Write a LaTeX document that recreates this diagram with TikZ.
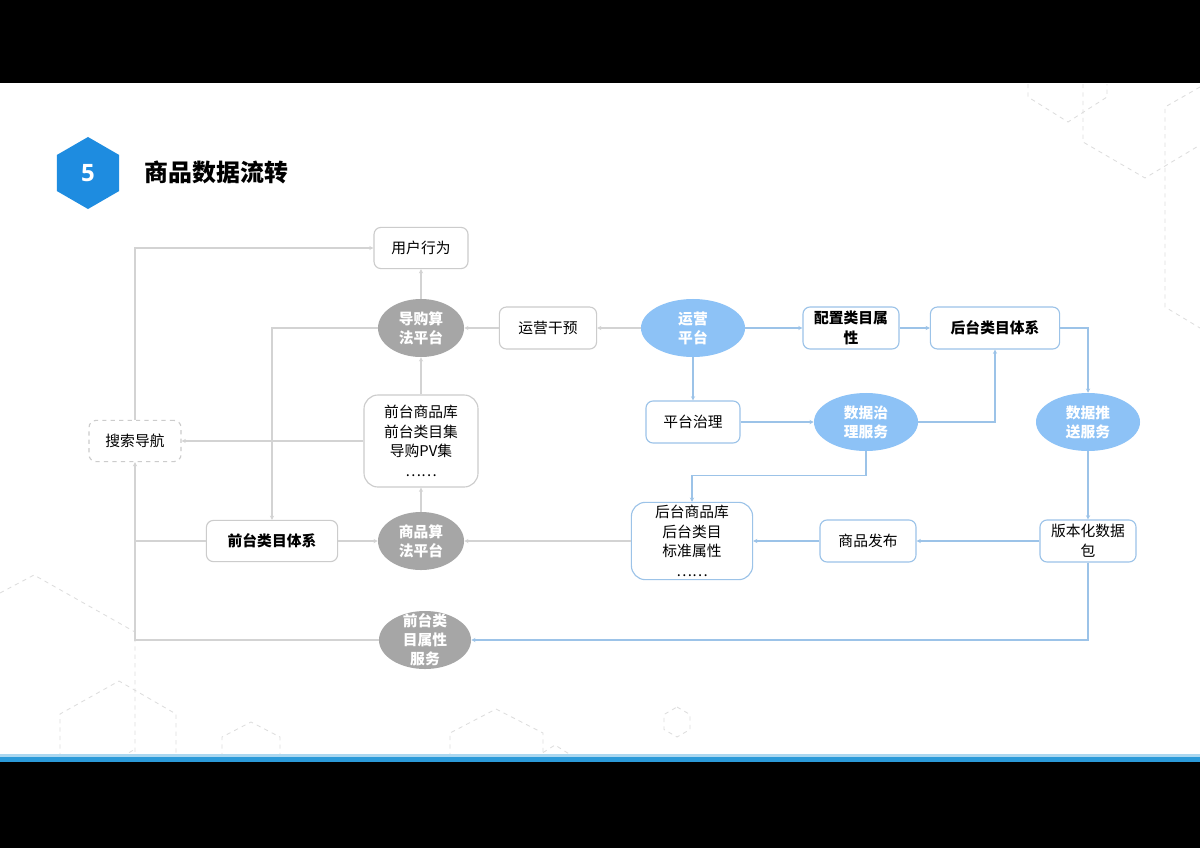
\documentclass[tikz,border=0pt]{standalone}
\usepackage{fontspec}
\setmainfont{Noto Sans CJK SC}
\newfontfamily\numfont{Open Sans}
\usetikzlibrary{arrows.meta,shapes.geometric}
\definecolor{boxgray}{HTML}{CCCCCC}
\definecolor{linegray}{HTML}{D3D3D3}
\definecolor{lineblue}{HTML}{9CC3E8}
\definecolor{ellgray}{HTML}{A6A6A6}
\definecolor{ellblue}{HTML}{8DC2F6}
\definecolor{barblue}{HTML}{2B9AD9}
\definecolor{hexblue}{HTML}{1E8CE0}
\definecolor{decogray}{HTML}{DDDDDD}
\tikzset{
  txt/.style={font=\fontsize{10.5}{14}\selectfont, align=center},
  boldtxt/.style={font=\fontsize{10.5}{14}\selectfont\bfseries},
  graybox/.style={txt, draw=boxgray, line width=0.8pt, rounded corners=5pt, fill=white, inner sep=2pt, minimum height=1.05cm},
  bluebox/.style={graybox, draw=lineblue},
  grayell/.style={ellipse, align=center, fill=ellgray, text=white, font=\fontsize{10.5}{13.5}\selectfont\bfseries, inner sep=0pt, minimum height=1.45cm},
  blueell/.style={grayell, fill=ellblue},
  gpath/.style={draw=linegray, line width=0.8pt},
  gline/.style={gpath, -{Stealth[length=3pt,width=3pt]}},
  bline/.style={gline, draw=lineblue},
  deco/.style={draw=decogray, dashed, line width=0.6pt}
}
\begin{document}
\begin{tikzpicture}[x=0.025cm,y=-0.025cm]
\useasboundingbox (0,0) rectangle (1200,848);
\fill[white] (0,0) rectangle (1200,848);
% background hexagons
\draw[deco] (1028,84) -- (1028,97) -- (1068,122) -- (1107,97) -- (1107,84);
\draw[deco] (1083,84) -- (1083,142) -- (1145,178) -- (1200,145);
\draw[deco] (1200,87) -- (1165,107) -- (1165,307) -- (1200,328);
\draw[deco] (0,593) -- (34,575) -- (135,632) -- (135,757);
\draw[deco] (122,757) -- (135,749);
\draw[deco] (60,757) -- (60,714) -- (119,681) -- (176,714) -- (176,757);
\draw[deco] (222,757) -- (222,737) -- (251,722) -- (280,737) -- (280,757);
\draw[deco] (450,757) -- (450,733) -- (496,709) -- (543,733) -- (543,757);
\draw[deco] (536,757) -- (555,745) -- (574,757);
\draw[deco] (677,707) -- (690,714.5) -- (690,729.5) -- (677,737) -- (664,729.5) -- (664,714.5) -- cycle;
% frame
\fill[black] (0,0) rectangle (1200,83);
\fill[black] (0,762) rectangle (1200,848);
\fill[barblue!40] (0,754) rectangle (1200,757);
\fill[barblue] (0,757) rectangle (1200,762);
% title
\node[regular polygon, regular polygon sides=6, shape border rotate=30, fill=hexblue, minimum size=1.8cm, inner sep=0pt, text=white, font=\numfont\bfseries\fontsize{17}{17}\selectfont] (num) at (88,173) {5};
\node[anchor=west, font=\bfseries\fontsize{17}{20}\selectfont] (title) at (140,172) {商品数据流转};
% nodes
\node[graybox, minimum width=2.35cm, minimum height=1.03cm] (yonghu) at (421,248) {用户行为};
\node[grayell, minimum width=2.15cm] (daogou) at (421,328) {导购算\\法平台};
\node[graybox, minimum width=2.43cm] (ganyu) at (548,328) {运营干预};
\node[blueell, minimum width=2.6cm] (yunying) at (693,328) {运营\\平台};
\node[bluebox, boldtxt, minimum width=2.4cm] (peizhi) at (851,328) {配置类目属\\性};
\node[bluebox, boldtxt, minimum width=3.23cm] (houtixi) at (995,328) {后台类目体系};
\node[bluebox, minimum width=2.35cm] (pingtai) at (693,422) {平台治理};
\node[blueell, minimum width=2.6cm] (zhili) at (866,422) {数据治\\理服务};
\node[blueell, minimum width=2.6cm] (tuisong) at (1088,422) {数据推\\送服务};
\node[graybox, dashed, minimum width=2.3cm, minimum height=1.03cm] (sousuo) at (135,441) {搜索导航};
\node[graybox, rounded corners=10pt, minimum width=2.85cm, minimum height=2.3cm] (qianku) at (421,441) {前台商品库\\前台类目集\\导购PV集\\……};
\node[graybox, boldtxt, minimum width=3.28cm, minimum height=1.03cm] (qiantixi) at (272,541) {前台类目体系};
\node[grayell, minimum width=2.15cm] (shangsuan) at (421,541) {商品算\\法平台};
\node[bluebox, rounded corners=10pt, minimum width=3.03cm, minimum height=1.93cm] (houku) at (692,541) {后台商品库\\后台类目\\标准属性\\……};
\node[bluebox, minimum width=2.4cm] (fabu) at (868,541) {商品发布};
\node[bluebox, minimum width=2.4cm] (banben) at (1088,541) {版本化数据\\包};
\node[grayell, minimum width=2.3cm, label={[align=center, text=white, font=\fontsize{10.5}{13.5}\selectfont\bfseries]center:{前台类\\目属性\\服务}}] (shuxing) at (425,640) {};
% gray connectors
\draw[gline] (sousuo.north) |- (yonghu.west);
\draw[gline] (daogou.north) -- (yonghu.south);
\draw[gline] (yunying.west) -- (ganyu.east);
\draw[gline] (ganyu.west) -- (daogou.east);
\draw[gline] (daogou.west) -| (qiantixi.north);
\draw[gline] (qianku.north) -- (daogou.south);
\draw[gline] (qianku.west) -- (sousuo.east);
\draw[gline] (qiantixi.east) -- (shangsuan.west);
\draw[gline] (shangsuan.north) -- (qianku.south);
\draw[gline] (houku.west) -- (shangsuan.east);
\draw[gpath] (qiantixi.west) -- (qiantixi.west -| sousuo.south);
\draw[gline] (shuxing.west) -| (sousuo.south);
% blue connectors
\draw[bline] (yunying.east) -- (peizhi.west);
\draw[bline] (peizhi.east) -- (houtixi.west);
\draw[bline] (yunying.south) -- (pingtai.north);
\draw[bline] (pingtai.east) -- (zhili.west);
\draw[bline] (zhili.east) -| (houtixi.south);
\draw[bline] (houtixi.east) -| (tuisong.north);
\draw[bline] (tuisong.south) -- (banben.north);
\draw[bline] (zhili.south) -- ++(0,24) -| (houku.north);
\draw[bline] (banben.west) -- (fabu.east);
\draw[bline] (fabu.west) -- (houku.east);
\draw[bline] (banben.south) |- (shuxing.east);
\end{tikzpicture}
\end{document}
